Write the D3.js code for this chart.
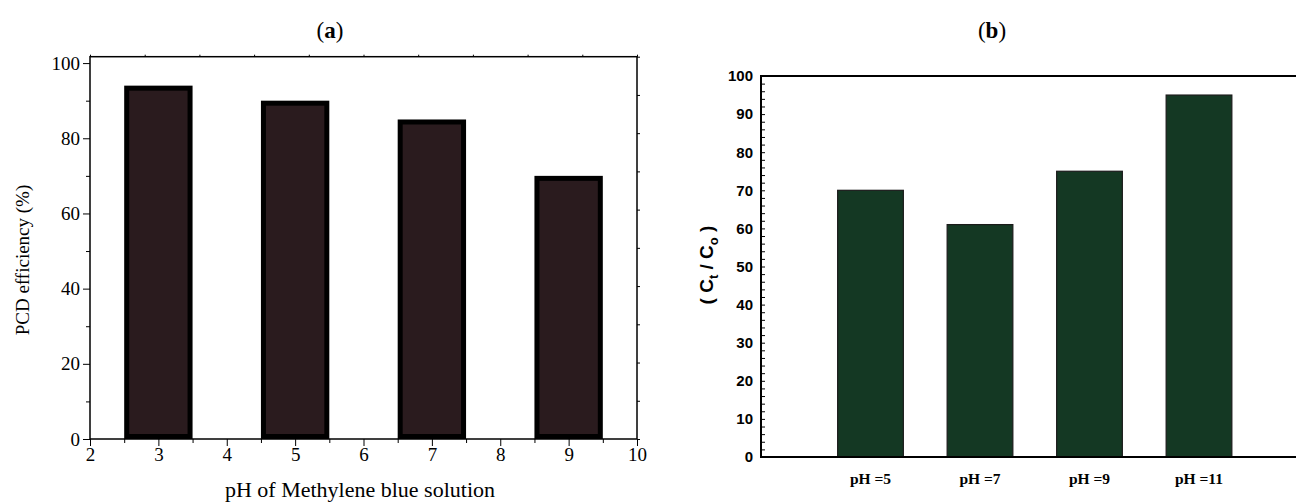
<!DOCTYPE html>
<html lang="en">
<head>
    <meta charset="utf-8">
    <title>PCD efficiency vs pH</title>
    <script src="https://cdn.jsdelivr.net/npm/d3@7"></script>
    <style>
        body { margin: 0; background: #fff; }
        svg { display: block; }
        .serif { font-family: "Liberation Serif", "Times New Roman", serif; }
        .sans { font-family: "Liberation Sans", Arial, sans-serif; }
    </style>
</head>
<body>
    <svg id="chart" width="1296" height="504"></svg>

    <script>
        // panel (a) data
        const phA = [3, 5, 7, 9];
        const pcdA = [94, 90, 85, 70];
        const xTicksA = [2, 3, 4, 5, 6, 7, 8, 9, 10];
        const yTicksA = [0, 20, 40, 60, 80, 100];

        // panel (b) data
        const catsB = ["pH =5", "pH =7", "pH =9", "pH =11"];
        const valsB = [70, 61, 75, 95];
        const yTicksB = [0, 10, 20, 30, 40, 50, 60, 70, 80, 90, 100];

        const svg = d3.select("#chart");

        // ---------- panel (a) ----------
        const gA = svg.append("g");
        const xA = d3.scaleLinear().domain([2, 10]).range([90, 637]);
        const yA = d3.scaleLinear().domain([0, 101.7]).range([439, 56.7]);

        // bars with thick black border
        const sw = 5;
        gA.selectAll("rect.bar")
            .data(phA)
            .enter()
            .append("rect")
            .attr("class", "bar")
            .attr("x", d => xA(d - 0.5) + sw / 2)
            .attr("y", (d, i) => yA(pcdA[i]) + sw / 2)
            .attr("width", xA(3.5) - xA(2.5) - sw)
            .attr("height", (d, i) => yA(0) - yA(pcdA[i]) - sw)
            .attr("fill", "#2a1b1e")
            .attr("stroke", "#000")
            .attr("stroke-width", sw);

        // frame
        gA.append("rect")
            .attr("x", xA(2)).attr("y", yA(101.7))
            .attr("width", xA(10) - xA(2)).attr("height", yA(0) - yA(101.7))
            .attr("fill", "none").attr("stroke", "#000").attr("stroke-width", 1.5);

        // left axis
        gA.append("g")
            .attr("transform", `translate(${xA(2)},0)`)
            .call(d3.axisLeft(yA).tickValues(d3.range(10, 100, 20)).tickSize(4).tickFormat(""))
            .call(g => g.select(".domain").remove());
        gA.append("g")
            .attr("class", "serif")
            .attr("transform", `translate(${xA(2)},0)`)
            .call(d3.axisLeft(yA).tickValues(yTicksA).tickSize(7).tickPadding(3))
            .call(g => g.select(".domain").remove())
            .call(g => g.selectAll("text").attr("font-size", 19).attr("fill", "#000"));

        // bottom axis
        gA.append("g")
            .attr("transform", `translate(0,${yA(0)})`)
            .call(d3.axisBottom(xA).tickValues(d3.range(2.5, 10, 1)).tickSize(4).tickFormat(""))
            .call(g => g.select(".domain").remove());
        gA.append("g")
            .attr("class", "serif")
            .attr("transform", `translate(0,${yA(0)})`)
            .call(d3.axisBottom(xA).tickValues(xTicksA).tickSize(7).tickPadding(2))
            .call(g => g.select(".domain").remove())
            .call(g => g.selectAll("text").attr("font-size", 19).attr("fill", "#000"));

        // top and right small ticks
        const topA = d3.scaleLinear().domain([0, 10]).range(xA.range());
        gA.append("g")
            .attr("transform", `translate(0,${yA(101.7)})`)
            .call(d3.axisTop(topA).ticks(10).tickSize(2).tickFormat(""))
            .call(g => g.select(".domain").remove());
        const rightA = d3.scaleLinear().domain([0, 10]).range([yA(0), yA(101.7)]);
        gA.append("g")
            .attr("transform", `translate(${xA(10)},0)`)
            .call(d3.axisRight(rightA).ticks(10).tickSize(3).tickFormat(""))
            .call(g => g.select(".domain").remove());

        // labels
        gA.append("text")
            .attr("class", "serif")
            .attr("x", 360).attr("y", 497)
            .attr("text-anchor", "middle")
            .attr("font-size", 22)
            .text("pH of Methylene blue solution");
        gA.append("text")
            .attr("class", "serif")
            .attr("transform", "translate(29,260) rotate(-90)")
            .attr("text-anchor", "middle")
            .attr("font-size", 19)
            .text("PCD efficiency (%)");
        const tA = gA.append("text")
            .attr("class", "serif")
            .attr("x", 330).attr("y", 38)
            .attr("text-anchor", "middle")
            .attr("font-size", 23);
        tA.append("tspan").text("(");
        tA.append("tspan").attr("font-weight", "bold").text("a");
        tA.append("tspan").text(")");

        // ---------- panel (b) ----------
        const gB = svg.append("g");
        const xB = d3.scalePoint().domain(catsB).range([761, 1308.5]).padding(1);
        const yB = d3.scaleLinear().domain([0, 100]).range([457, 76]);
        const bw = xB.step() * 0.6;

        gB.selectAll("rect.bar")
            .data(catsB)
            .enter()
            .append("rect")
            .attr("class", "bar")
            .attr("x", d => xB(d) - bw / 2)
            .attr("y", (d, i) => yB(valsB[i]))
            .attr("width", bw)
            .attr("height", (d, i) => yB(0) - yB(valsB[i]))
            .attr("fill", "#143823")
            .attr("stroke", "#1a1a1a")
            .attr("stroke-width", 1.2);

        // left axis with inward ticks
        gB.append("g")
            .attr("transform", `translate(761,0)`)
            .call(d3.axisRight(yB).tickValues(d3.range(0, 101, 2)).tickSize(4).tickFormat(""))
            .call(g => g.select(".domain").remove());
        gB.append("g")
            .attr("class", "sans")
            .attr("transform", `translate(761,0)`)
            .call(d3.axisLeft(yB).tickValues(yTicksB).tickSize(0).tickPadding(8))
            .call(g => g.select(".domain").remove())
            .call(g => g.selectAll("text").attr("font-size", 15).attr("font-weight", "bold").attr("fill", "#000"));

        // frame lines
        gB.append("line")
            .attr("x1", 761).attr("x2", 1296).attr("y1", yB(0)).attr("y2", yB(0))
            .attr("stroke", "#000").attr("stroke-width", 2);
        gB.append("line")
            .attr("x1", 761).attr("x2", 1296).attr("y1", yB(100)).attr("y2", yB(100))
            .attr("stroke", "#000").attr("stroke-width", 2);
        gB.append("line")
            .attr("x1", 761).attr("x2", 761).attr("y1", yB(100) - 1).attr("y2", yB(0) + 1)
            .attr("stroke", "#000").attr("stroke-width", 2);

        // category labels
        gB.selectAll("text.cat")
            .data(catsB)
            .enter()
            .append("text")
            .attr("class", "cat serif")
            .attr("x", d => xB(d))
            .attr("y", 484)
            .attr("text-anchor", "middle")
            .attr("font-size", 15.5)
            .attr("font-weight", "bold")
            .text(d => d);

        // y label ( Ct / Co )
        const yl = gB.append("text")
            .attr("class", "sans")
            .attr("transform", "translate(713,265) rotate(-90)")
            .attr("text-anchor", "middle")
            .attr("font-size", 19)
            .attr("font-weight", "bold");
        yl.append("tspan").text("( C");
        yl.append("tspan").attr("font-size", 13).attr("dy", 5).text("t");
        yl.append("tspan").attr("dy", -5).text(" / C");
        yl.append("tspan").attr("font-size", 13).attr("dy", 5).text("o");
        yl.append("tspan").attr("dy", -5).text(" )");

        const tB = gB.append("text")
            .attr("class", "serif")
            .attr("x", 992).attr("y", 38)
            .attr("text-anchor", "middle")
            .attr("font-size", 23);
        tB.append("tspan").text("(");
        tB.append("tspan").attr("font-weight", "bold").text("b");
        tB.append("tspan").text(")");
    </script>
</body>
</html>
